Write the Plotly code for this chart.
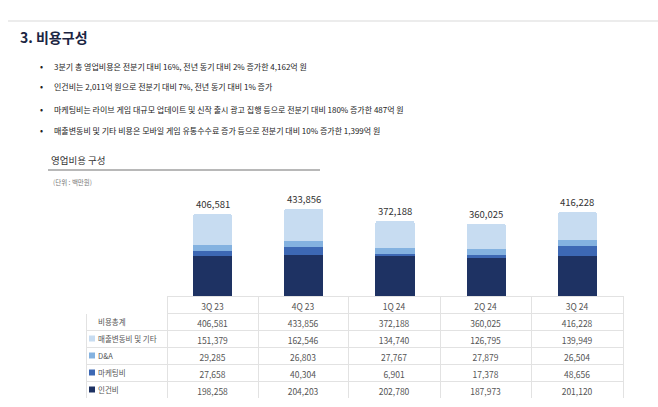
import plotly.graph_objects as go

W, H = 658, 407

quarters = ["3Q 23", "4Q 23", "1Q 24", "2Q 24", "3Q 24"]
labor = [198258, 204203, 202780, 187973, 201120]
marketing = [27658, 40304, 6901, 17378, 48656]
dna = [29285, 26803, 27767, 27879, 26504]
cogs_other = [151379, 162546, 134740, 126795, 139949]
totals = [406581, 433856, 372188, 360025, 416228]

series_names = ["인건비", "마케팅비", "D&A", "매출변동비 및 기타"]
series_values = [labor, marketing, dna, cogs_other]
series_colors = ["#1e3263", "#3d68b4", "#84b2e0", "#c7dcf1"]

title = "3. 비용구성"
bullets = [
    "3분기 총 영업비용은 전분기 대비 16%, 전년 동기 대비 2% 증가한 4,162억 원",
    "인건비는 2,011억 원으로 전분기 대비 7%, 전년 동기 대비 1% 증가",
    "마케팅비는 라이브 게임 대규모 업데이트 및 신작 출시 광고 집행 등으로 전분기 대비 180% 증가한 487억 원",
    "매출변동비 및 기타 비용은 모바일 게임 유통수수료 증가 등으로 전분기 대비 10% 증가한 1,399억 원",
]
chart_title = "영업비용 구성"
unit_text = "(단위 : 백만원)"
total_row_label = "비용총계"


def px(x):
    return x / W


def py(y):
    return 1 - y / H


FONT = "Noto Sans CJK KR"

fig = go.Figure()

for name, vals, col in zip(series_names, series_values, series_colors):
    fig.add_trace(go.Bar(
        x=quarters, y=vals, name=name, marker=dict(color=col, line=dict(width=0)),
        xaxis="x", yaxis="y", hoverinfo="skip",
    ))

# table (label column drawn empty; labels placed as annotations to avoid wrapping)
fmt = lambda v: f"{v:,}"
row_labels = [total_row_label] + series_names[::-1]
row_colors = [None] + series_colors[::-1]
cols = [[""] * len(row_labels)]
for i in range(len(quarters)):
    cols.append([fmt(totals[i])] + [fmt(s[i]) for s in series_values[::-1]])

line_c = "#e2e2e2"
TABLE_TOP, ROW_H = 296, 17
fig.add_trace(go.Table(
    domain=dict(x=[px(86), px(623)], y=[py(TABLE_TOP + ROW_H * 6 + 1), py(TABLE_TOP)]),
    columnwidth=[81, 91, 90, 92, 91, 92],
    header=dict(
        values=[""] + quarters,
        height=ROW_H,
        fill=dict(color="white"),
        line=dict(color=["white"] + [line_c] * 5, width=1),
        font=dict(family=FONT, size=8.5, color="#555"),
        align="center",
    ),
    cells=dict(
        values=cols,
        height=ROW_H,
        fill=dict(color="white"),
        line=dict(color=line_c, width=1),
        font=dict(family=FONT, size=8.5, color="#555"),
        align="center",
    ),
))

annotations = []
shapes = []
annotations.append(dict(
    x=px(18), y=py(37), xref="paper", yref="paper", xanchor="left", yanchor="middle",
    text=f"<b>{title}</b>", showarrow=False,
    font=dict(family=FONT, size=14, color="#1b2542"),
))
for i, b in enumerate(bullets):
    yy = [66, 87, 109, 130][i]
    annotations.append(dict(
        x=px(38), y=py(yy), xref="paper", yref="paper", xanchor="left", yanchor="middle",
        text="•", showarrow=False, font=dict(family=FONT, size=9, color="#222"),
    ))
    annotations.append(dict(
        x=px(52), y=py(yy), xref="paper", yref="paper", xanchor="left", yanchor="middle",
        text=b, showarrow=False, font=dict(family=FONT, size=8, color="#222"),
    ))
annotations.append(dict(
    x=px(49), y=py(160), xref="paper", yref="paper", xanchor="left", yanchor="middle",
    text=chart_title, showarrow=False, font=dict(family=FONT, size=9.5, color="#333"),
))
annotations.append(dict(
    x=px(51), y=py(182), xref="paper", yref="paper", xanchor="left", yanchor="middle",
    text=unit_text, showarrow=False, font=dict(family=FONT, size=6.5, color="#777"),
))
for q, t in zip(quarters, totals):
    annotations.append(dict(
        x=q, y=t, xref="x", yref="y", xanchor="center", yanchor="bottom", yshift=1,
        text=fmt(t), showarrow=False, font=dict(family=FONT, size=9.5, color="#333"),
    ))

# row labels with colour keys
for r, (lab, col) in enumerate(zip(row_labels, row_colors)):
    cy = TABLE_TOP + ROW_H * (r + 1) + ROW_H / 2
    annotations.append(dict(
        x=px(96), y=py(cy), xref="paper", yref="paper", xanchor="left", yanchor="middle",
        text=lab, showarrow=False, font=dict(family=FONT, size=7.5, color="#555"),
    ))
    if col:
        shapes.append(dict(type="rect", xref="paper", yref="paper",
                           x0=px(89), x1=px(95), y0=py(cy + 3), y1=py(cy - 3),
                           fillcolor=col, line=dict(width=0)))

shapes += [
    dict(type="line", xref="paper", yref="paper", x0=px(8), x1=1, y0=py(21), y1=py(21),
         line=dict(color="#e6e6e6", width=1.5)),
    dict(type="line", xref="paper", yref="paper", x0=px(48), x1=px(320), y0=py(170), y1=py(170),
         line=dict(color="#a0a0a0", width=1.5)),
]

fig.update_layout(
    width=W, height=H, margin=dict(l=0, r=0, t=0, b=0),
    paper_bgcolor="white", plot_bgcolor="white",
    barmode="stack", bargap=0.57, barcornerradius=2,
    showlegend=False,
    xaxis=dict(domain=[px(167), px(623)], visible=False, fixedrange=True),
    yaxis=dict(domain=[py(296), py(176)], range=[0, 597000], visible=False, fixedrange=True),
    annotations=annotations, shapes=shapes,
    font=dict(family=FONT),
)

fig.write_html("out.html")
